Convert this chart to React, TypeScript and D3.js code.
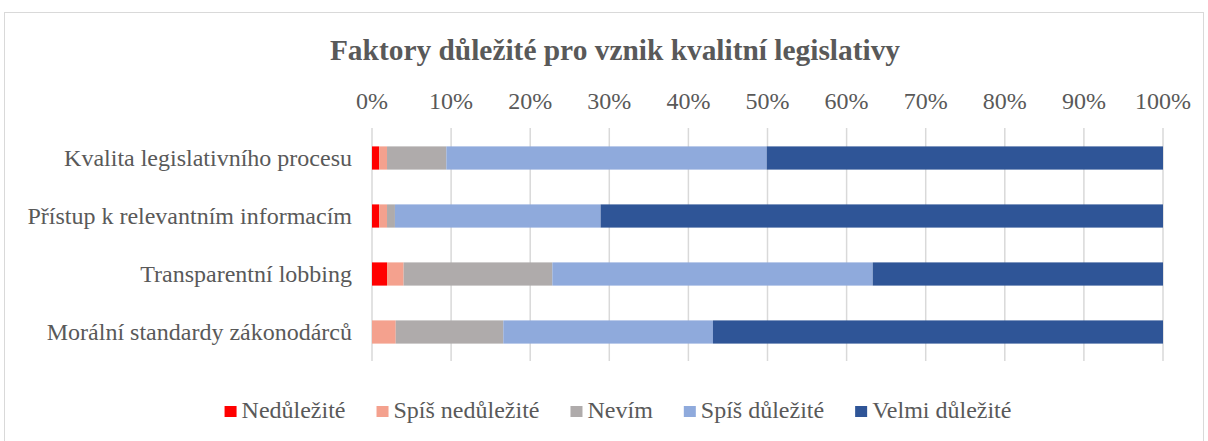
import React, { useEffect, useRef } from "react";
import * as d3 from "d3";

const categories = [
  "Kvalita legislativního procesu",
  "Přístup k relevantním informacím",
  "Transparentní lobbing",
  "Morální standardy zákonodárců",
];
const seriesNames = ["Nedůležité", "Spíš nedůležité", "Nevím", "Spíš důležité", "Velmi důležité"];
const seriesColors = ["#FF0000", "#F4A18E", "#AFABAB", "#8FAADC", "#2F5597"];

// percentages per category, in series order
const nedulezite = [0.9, 0.9, 1.9, 0];
const spisNedulezite = [1.0, 1.0, 2.1, 3.0];
const nevim = [7.5, 1.0, 18.8, 13.6];
const spisDulezite = [40.5, 26.0, 40.5, 26.5];
const velmiDulezite = [50.1, 71.1, 36.7, 56.9];

const ticks = [0, 10, 20, 30, 40, 50, 60, 70, 80, 90, 100];

const W = 1208;
const H = 441;
const FONT = "'Liberation Serif', 'Times New Roman', serif";
const TEXT = "#595959";

const App = () => {
  const legendRef = useRef<SVGGElement>(null);

  const x = d3.scaleLinear().domain([0, 100]).range([372, 1163]);
  const y = d3.scaleBand().domain(categories).range([129, 361]).paddingInner(0.6).paddingOuter(0.3);

  const rows = categories.map((c, i) => ({
    category: c,
    values: [nedulezite[i], spisNedulezite[i], nevim[i], spisDulezite[i], velmiDulezite[i]],
  }));
  const stacked = rows.map((r) => {
    let acc = 0;
    return r.values.map((v, k) => {
      const x0 = acc;
      acc += v;
      return { key: k, x0, x1: acc };
    });
  });

  // legend laid out from measured text widths
  useEffect(() => {
    const g = d3.select(legendRef.current);
    g.selectAll("*").remove();
    const gap = 31;
    let cursor = 0;
    seriesNames.forEach((name, i) => {
      const item = g.append("g").attr("transform", `translate(${cursor},0)`);
      item.append("rect").attr("x", 0).attr("y", -12).attr("width", 12).attr("height", 11).attr("fill", seriesColors[i]);
      const t = item
        .append("text")
        .attr("x", 17)
        .attr("y", 0)
        .attr("font-family", FONT)
        .attr("font-size", 24)
        .attr("fill", TEXT)
        .text(name);
      const w = (t.node() as SVGTextElement).getComputedTextLength();
      cursor += 17 + w + gap;
    });
    const total = cursor - gap;
    g.attr("transform", `translate(${618 - total / 2},418)`);
  }, []);

  return (
    <svg width={W} height={H} style={{ position: "absolute", left: 0, top: 0 }}>
      <rect x={0} y={0} width={W} height={H} fill="#fff" />
      <rect x={4.5} y={12.5} width={1199} height={440} fill="#fff" stroke="#D9D9D9" strokeWidth={1} />
      <text
        x={615}
        y={60}
        textAnchor="middle"
        fontFamily={FONT}
        fontSize={29.4}
        fontWeight="bold"
        fill={TEXT}
      >
        Faktory důležité pro vznik kvalitní legislativy
      </text>
      {ticks.map((t) => (
        <g key={t}>
          <line x1={x(t)} x2={x(t)} y1={128} y2={361} stroke="#D9D9D9" strokeWidth={1.5} />
          <text x={x(t)} y={109} textAnchor="middle" fontFamily={FONT} fontSize={24} fill={TEXT}>
            {t}%
          </text>
        </g>
      ))}
      {rows.map((r, i) => (
        <g key={r.category}>
          {stacked[i].map((s) =>
            s.x1 > s.x0 ? (
              <rect
                key={s.key}
                x={x(s.x0)}
                y={y(r.category)!}
                width={x(s.x1) - x(s.x0)}
                height={y.bandwidth()}
                fill={seriesColors[s.key]}
              />
            ) : null
          )}
          <text
            x={352}
            y={y(r.category)! + y.bandwidth() / 2 + 8}
            textAnchor="end"
            fontFamily={FONT}
            fontSize={24}
            fill={TEXT}
          >
            {r.category}
          </text>
        </g>
      ))}
      <g ref={legendRef} />
    </svg>
  );
};

export default App;
